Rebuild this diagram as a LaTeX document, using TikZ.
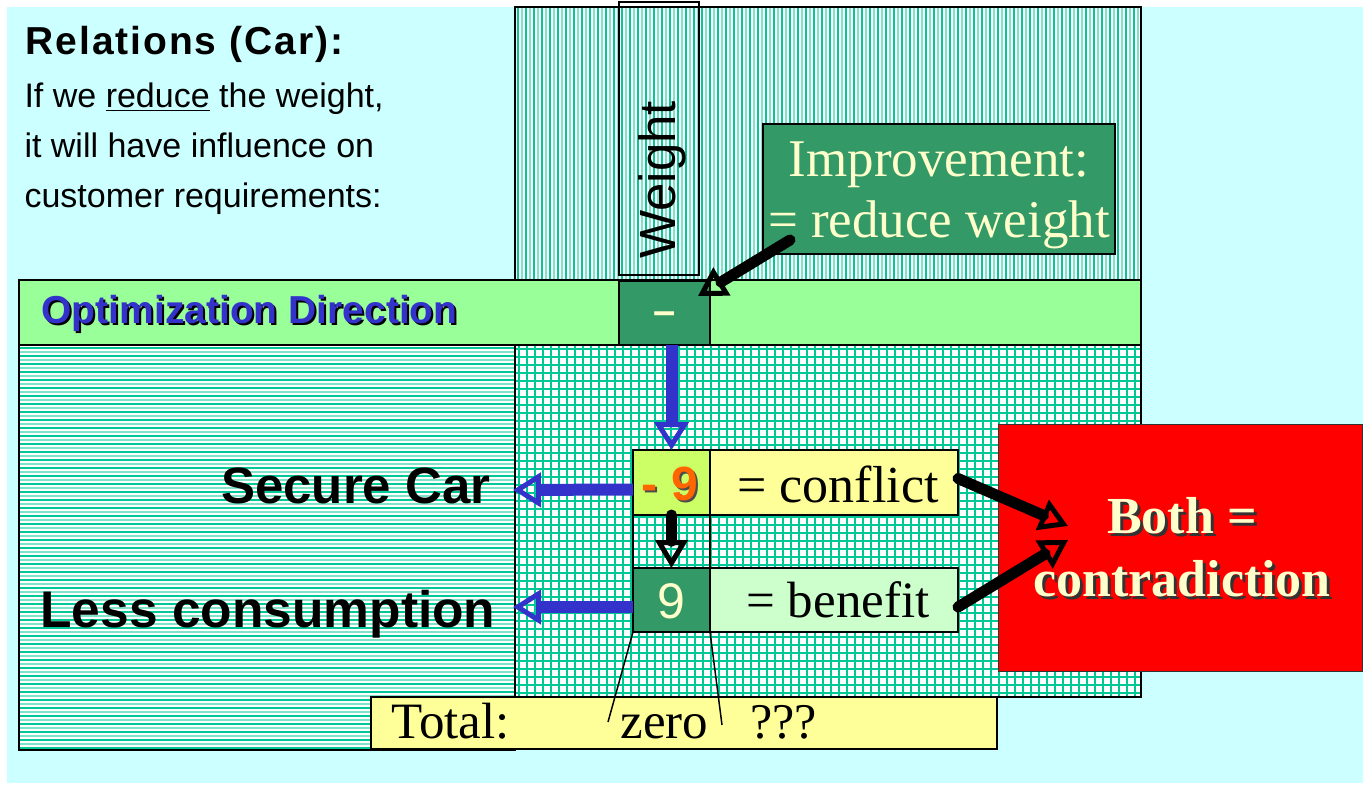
\documentclass[tikz,border=0pt]{standalone}
\usepackage{fontspec}
\setmainfont{Liberation Serif}
\setsansfont{Liberation Sans}
\usetikzlibrary{arrows.meta,calc}
\definecolor{cyanbg}{HTML}{CCFFFF}
\definecolor{barg}{HTML}{99FF99}
\definecolor{dkg}{HTML}{339966}
\definecolor{pale}{HTML}{FFFFCC}
\definecolor{yel}{HTML}{FFFF99}
\definecolor{ygr}{HTML}{CCFF66}
\definecolor{mint}{HTML}{CCFFCC}
\definecolor{org}{HTML}{FF6600}
\definecolor{arrblue}{HTML}{3333CC}
\definecolor{tealA}{HTML}{00C896}
\definecolor{tealB}{HTML}{7FE3C8}
\newcommand\shtx[3]{\rlap{\kern#3\raisebox{-#3}{\textcolor{#2}{#1}}}#1}
\tikzset{
  cell/.style={draw=black, line width=1.5pt, anchor=north west, inner sep=0pt, outer sep=0pt},
  darkline/.style={draw=tealA, line width=1.2pt},
  lightline/.style={draw=tealB, line width=1.2pt},
  gridline/.style={draw=tealA, line width=1.3pt},
  bluearrow/.style={draw=arrblue, line width=12pt, -{Triangle[open, length=28pt, width=34pt, line width=5pt]}},
  blkarrow/.style={draw=black, line width=11pt, line cap=round, -{Triangle[open, length=28pt, width=32pt, line width=5pt]}},
  thinline/.style={draw=black, line width=1.5pt},
}
\begin{document}
\begin{tikzpicture}[x=1pt,y=-1pt]
\useasboundingbox (0,0) rectangle (1363,786);
\fill[white] (0,0) rectangle (1363,786);
\fill[cyanbg] (7,7) rectangle (1363,783);
% top vertical-striped region
\fill[white] (515,7) rectangle (1141,280);
\foreach \x in {518,526,...,1138} \draw[darkline] (\x,7) -- (\x,280);
\foreach \x in {522,530,...,1138} \draw[lightline] (\x,7) -- (\x,280);
\draw[line width=1.5pt] (515,7) rectangle (1141,280);
% left horizontal-striped region
\fill[white] (19,345) rectangle (515,750);
\foreach \y in {348,356,...,748} \draw[darkline] (19,\y) -- (515,\y);
\foreach \y in {352,360,...,748} \draw[lightline] (19,\y) -- (515,\y);
\draw[line width=1.5pt] (19,345) rectangle (515,750);
% grid region
\fill[white] (515,345) rectangle (1141,697);
\foreach \x in {519,527,...,1139} \draw[gridline] (\x,345) -- (\x,697);
\foreach \y in {349,357,...,695} \draw[gridline] (515,\y) -- (1141,\y);
\draw[line width=1.5pt] (515,345) rectangle (1141,697);
% optimization bar
\node[cell, fill=barg, minimum width=1122pt, minimum height=65pt] (opt) at (19,280) {};
\node[anchor=west, text=arrblue, font=\fontsize{39}{39}\selectfont\sffamily\bfseries] (opttxt) at (38,314) {\shtx{Optimization Direction}{black}{2pt}};
% total bar
\node[cell, fill=yel, minimum width=626pt, minimum height=52pt] (total) at (371,697) {};
\node[anchor=base west, font=\fontsize{51}{51}\selectfont] (totaltxt) at (388,738) {Total:};
\node[anchor=base west, font=\fontsize{51}{51}\selectfont] (zero) at (617,738) {zero};
\node[anchor=base west, font=\fontsize{50}{50}\selectfont] (qqq) at (747,738) {???};
% weight box
\node[cell, minimum width=80pt, minimum height=273pt] (wbox) at (619,2) {};
\node[rotate=90, font=\fontsize{51}{51}\selectfont\sffamily] (wtxt) at (662,180) {Weight};
% improvement
\node[cell, fill=dkg, minimum width=352pt, minimum height=130pt] (imp) at (763,124) {};
\node[align=center, text=pale, font=\fontsize{53}{61}\selectfont] (imptxt) at (939,195) {Improvement:\\= reduce weight};
% minus box
\node[cell, fill=dkg, minimum width=91pt, minimum height=64pt] (minus) at (619,281) {};
\node[text=pale, font=\fontsize{40}{40}\selectfont\sffamily\bfseries] (minustxt) at (665,318) {\textendash};
% -9 and conflict
\node[cell, fill=ygr, minimum width=77pt, minimum height=65pt] (m9) at (633,450) {};
\node[text=org, font=\fontsize{48}{48}\selectfont\sffamily\bfseries] (m9txt) at (670,485) {\shtx{- 9}{black!70}{2pt}};
\node[cell, fill=yel, minimum width=248pt, minimum height=65pt] (conf) at (710,450) {};
\node[font=\fontsize{52}{52}\selectfont] (conftxt) at (838,484) {= conflict};
% 9 and benefit
\node[cell, fill=dkg, minimum width=77pt, minimum height=64pt] (b9) at (633,568) {};
\node[text=pale, font=\fontsize{50}{50}\selectfont\sffamily] (b9txt) at (671,601) {9};
\node[cell, fill=mint, minimum width=248pt, minimum height=64pt] (ben) at (710,568) {};
\node[font=\fontsize{51}{51}\selectfont] (bentxt) at (838,600) {= benefit};
% connectors between -9 and 9 boxes
\draw[thinline] (m9.south west) -- (b9.north west);
\draw[thinline] (m9.south east) -- (b9.north east);
% lines to total
\coordinate (zl) at (608,722);
\coordinate (zr) at (722,725);
\draw[thinline] (b9.south west) -- (zl);
\draw[thinline] (b9.south east) -- (zr);
% red box
\node[cell, draw=black!80, line width=1pt, fill=red, minimum width=364pt, minimum height=247pt] (redbox) at (998,424) {};
\node[align=center, text=pale, font=\fontsize{52}{63}\selectfont\bfseries] (redtxt) at (1182,549) {\shtx{Both =}{black!80}{3pt}\\\shtx{contradiction}{black!80}{3pt}};
% left labels
\node[anchor=base east, font=\fontsize{51}{51}\selectfont\sffamily\bfseries] (secure) at (494,503) {Secure Car};
\node[anchor=base east, font=\fontsize{51.5}{51.5}\selectfont\sffamily\bfseries] (less) at (499,627) {Less consumption};
% top-left text
\node[anchor=base west, font=\fontsize{39}{39}\selectfont\sffamily\bfseries\addfontfeatures{LetterSpace=5}] (title) at (22,55) {Relations (Car):};
\node[anchor=base west, font=\fontsize{34}{34}\selectfont\sffamily] (l1) at (21,108) {If we \underline{reduce} the weight,};
\node[anchor=base west, font=\fontsize{34}{34}\selectfont\sffamily] (l2) at (21,158) {it will have influence on};
\node[anchor=base west, font=\fontsize{34}{34}\selectfont\sffamily] (l3) at (21,208) {customer requirements:};
% arrows
\coordinate (scTip) at (513,490);
\coordinate (lcTip) at (513,607);
\coordinate (redA) at (1068,526);
\coordinate (redB) at (1068,540);
\draw[blkarrow] ([xshift=27pt,yshift=14pt]imp.south west) -- ([xshift=-12pt,yshift=-15pt]minus.north east);
\draw[bluearrow] (minus.south -| m9.north) -- (m9.north);
\draw[bluearrow] ([yshift=-7pt]m9.west) -- (scTip);
\draw[bluearrow] ([yshift=-7pt]b9.west) -- (lcTip);
\draw[blkarrow] (m9.south) -- (b9.north);
\draw[blkarrow] ([yshift=4pt]conf.east) -- (redA);
\draw[blkarrow] ([yshift=-7pt]ben.east) -- (redB);
\end{tikzpicture}
\end{document}
